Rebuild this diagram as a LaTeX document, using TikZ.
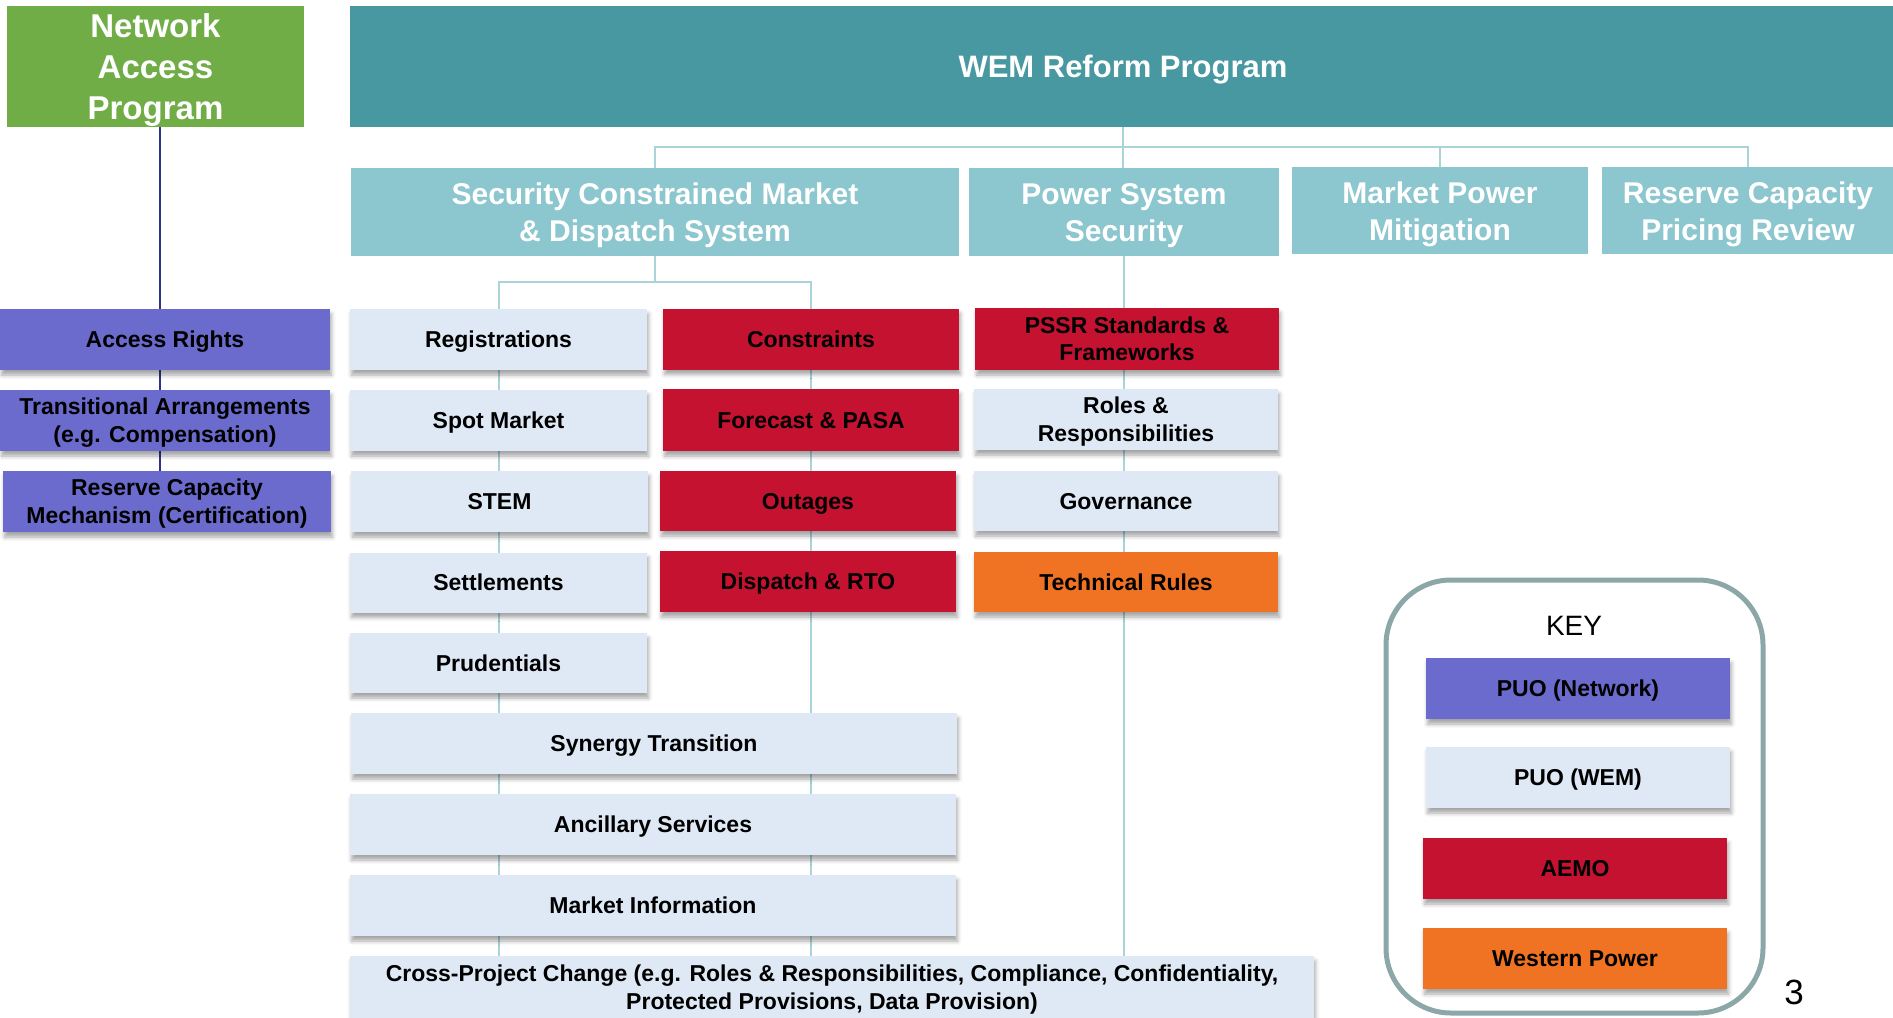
\documentclass[tikz,border=0pt]{standalone}
\usepackage{fontspec}
\setmainfont{Liberation Sans}
\usetikzlibrary{shadows.blur,backgrounds}
\definecolor{napgreen}{HTML}{70AD47}
\definecolor{wemteal}{HTML}{4798A0}
\definecolor{subteal}{HTML}{8CC6CE}
\definecolor{puopurple}{HTML}{6B6BCD}
\definecolor{puopale}{HTML}{DEE9F5}
\definecolor{aemored}{HTML}{C41230}
\definecolor{wporange}{HTML}{F07323}
\definecolor{busline}{HTML}{A9D5DA}
\definecolor{navyline}{HTML}{2E3192}
\definecolor{keyframe}{HTML}{8BA7A7}
\newcommand\fnap{\fontsize{33bp}{41bp}\selectfont\bfseries}
\newcommand\fwem{\fontsize{31bp}{37bp}\selectfont\bfseries}
\newcommand\fsub{\fontsize{30bp}{37bp}\selectfont\bfseries}
\newcommand\fitem{\fontsize{23bp}{27.5bp}\selectfont\bfseries}
\newcommand\fkeyh{\fontsize{28bp}{32bp}\selectfont}
\newcommand\fpage{\fontsize{35bp}{40bp}\selectfont}
\newcommand\lnbreak{\tabularnewline}
% strut-balanced text block, pushed down by half of the top kern
\newcommand\lowtext[2]{\vbox{\kern#1\hbox{\begin{tabular}{@{}c@{}}#2\end{tabular}}}}
\newcommand\lowtextb[3]{\vbox{\kern#1\hbox{\begin{tabular}{@{}c@{}}#3\end{tabular}}\kern-#2}}
\newcommand\itxt[1]{\lowtext{5.4bp}{#1}}
\tikzset{
  base/.style={inner sep=0pt, outer sep=0pt, draw=none},
  sz/.style 2 args={minimum width=#1bp, minimum height=#2bp},
  topbox/.style={base, fill=#1, text=white},
  itembox/.style={base, fill=#1, text=black, font=\fitem,
     blur shadow={shadow xshift=1.5bp, shadow yshift=-5bp, shadow blur radius=4bp, shadow opacity=35}},
  bus/.style={draw=busline, line width=2bp},
  navy/.style={draw=navyline, line width=2bp},
}
\begin{document}
\begin{tikzpicture}[x=1bp,y=-1bp]
\useasboundingbox (0,0) rectangle (1893,1017);
% top level
\node[topbox=napgreen, sz={297}{121}, font=\fnap] (nap) at (155.5,66.5) {\lowtextb{2.6bp}{4.6bp}{Network\lnbreak Access\lnbreak Program}};
\node[topbox=wemteal, sz={1546}{121}, font=\fwem] (wem) at (1123,66.5) {\lowtext{7.4bp}{WEM Reform Program}};
% second level
\node[topbox=subteal, sz={608}{88}, font=\fsub] (scmd) at (655,212) {\lowtext{8bp}{Security Constrained Market\lnbreak \& Dispatch System}};
\node[topbox=subteal, sz={310}{88}, font=\fsub] (pss) at (1124,212) {\lowtext{8bp}{Power System\lnbreak Security}};
\node[topbox=subteal, sz={296}{87}, font=\fsub] (mpm) at (1440,210.5) {\lowtext{8bp}{Market Power\lnbreak Mitigation}};
\node[topbox=subteal, sz={292}{87}, font=\fsub] (rcpr) at (1748,210.5) {\lowtext{8bp}{Reserve Capacity\lnbreak Pricing Review}};
% network column
\node[itembox=puopurple, sz={330}{61}] (ar) at (165,339.5) {\itxt{Access Rights}};
\node[itembox=puopurple, sz={330}{61}] (ta) at (165,420.5) {\itxt{Transitional Arrangements\lnbreak (e.g. Compensation)}};
\node[itembox=puopurple, sz={328}{61}] (rcm) at (167,501.5) {\itxt{Reserve Capacity\lnbreak Mechanism (Certification)}};
% SCMD left column
\node[itembox=puopale, sz={297}{61}] (reg) at (498.5,339.5) {\itxt{Registrations}};
\node[itembox=puopale, sz={297}{61}] (spot) at (498.5,420.5) {\itxt{Spot Market}};
\node[itembox=puopale, sz={297}{61}] (stem) at (499.5,501.5) {\itxt{STEM}};
\node[itembox=puopale, sz={297}{60}] (set) at (498.5,582.5) {\itxt{Settlements}};
\node[itembox=puopale, sz={297}{60}] (prud) at (498.5,663) {\itxt{Prudentials}};
% SCMD right column
\node[itembox=aemored, sz={296}{61}] (con) at (811,339) {\itxt{Constraints}};
\node[itembox=aemored, sz={296}{62}] (fp) at (811,420) {\itxt{Forecast \& PASA}};
\node[itembox=aemored, sz={296}{60}] (out) at (808,501) {\itxt{Outages}};
\node[itembox=aemored, sz={296}{61}] (drto) at (808,581.5) {\itxt{Dispatch \& RTO}};
% PSS column
\node[itembox=aemored, sz={304}{62}] (pssr) at (1127,339) {\itxt{PSSR Standards \&\lnbreak Frameworks}};
\node[itembox=puopale, sz={304}{61}] (roles) at (1126,419.5) {\itxt{Roles \&\lnbreak Responsibilities}};
\node[itembox=puopale, sz={304}{60}] (gov) at (1126,501) {\itxt{Governance}};
\node[itembox=wporange, sz={304}{60}] (tr) at (1126,582) {\itxt{Technical Rules}};
% wide rows
\node[itembox=puopale, sz={606}{61}] (syn) at (654,743.5) {\itxt{Synergy Transition}};
\node[itembox=puopale, sz={606}{61}] (anc) at (653,824.5) {\itxt{Ancillary Services}};
\node[itembox=puopale, sz={606}{61}] (mi) at (653,905.5) {\itxt{Market Information}};
\node[itembox=puopale, sz={964}{63}] (cross) at (832,987.5) {\itxt{Cross-Project Change (e.g. Roles \& Responsibilities, Compliance, Confidentiality,\lnbreak Protected Provisions, Data Provision)}};
% key
\draw[draw=keyframe, line width=5bp, rounded corners=65bp] (1386,580) rectangle (1763,1013);
\node[base, font=\fkeyh] (keyt) at (1574,626) {KEY};
\node[itembox=puopurple, sz={304}{61}] (k1) at (1578,688.5) {\itxt{PUO (Network)}};
\node[itembox=puopale, sz={304}{61}] (k2) at (1578,777.5) {\itxt{PUO (WEM)}};
\node[itembox=aemored, sz={304}{61}] (k3) at (1575,868.5) {\itxt{AEMO}};
\node[itembox=wporange, sz={304}{61}] (k4) at (1575,958.5) {\itxt{Western Power}};
\node[base, font=\fpage] (pg) at (1794,992) {3};
% connectors
\begin{pgfonlayer}{background}
\coordinate (busa) at (1123,147);
\coordinate (busb) at (655,282);
\coordinate (lt) at (160,127);
\draw[bus] (wem.south -| busa) -- (pss.north -| busa);
\draw[bus] (scmd.north) -- (scmd.north |- busa) -- (rcpr.north |- busa) -- (rcpr.north);
\draw[bus] (mpm.north |- busa) -- (mpm.north);
\draw[bus] (scmd.south) -- (busb);
\draw[bus] (reg.north |- cross.north) -- (reg.north |- busb) -- (con.north |- busb) -- (con.north |- cross.north);
\draw[bus] (pss.south) -- (pss.south |- cross.north);
\draw[navy] (lt) -- (lt |- rcm.north);
\end{pgfonlayer}
\end{tikzpicture}
\end{document}
